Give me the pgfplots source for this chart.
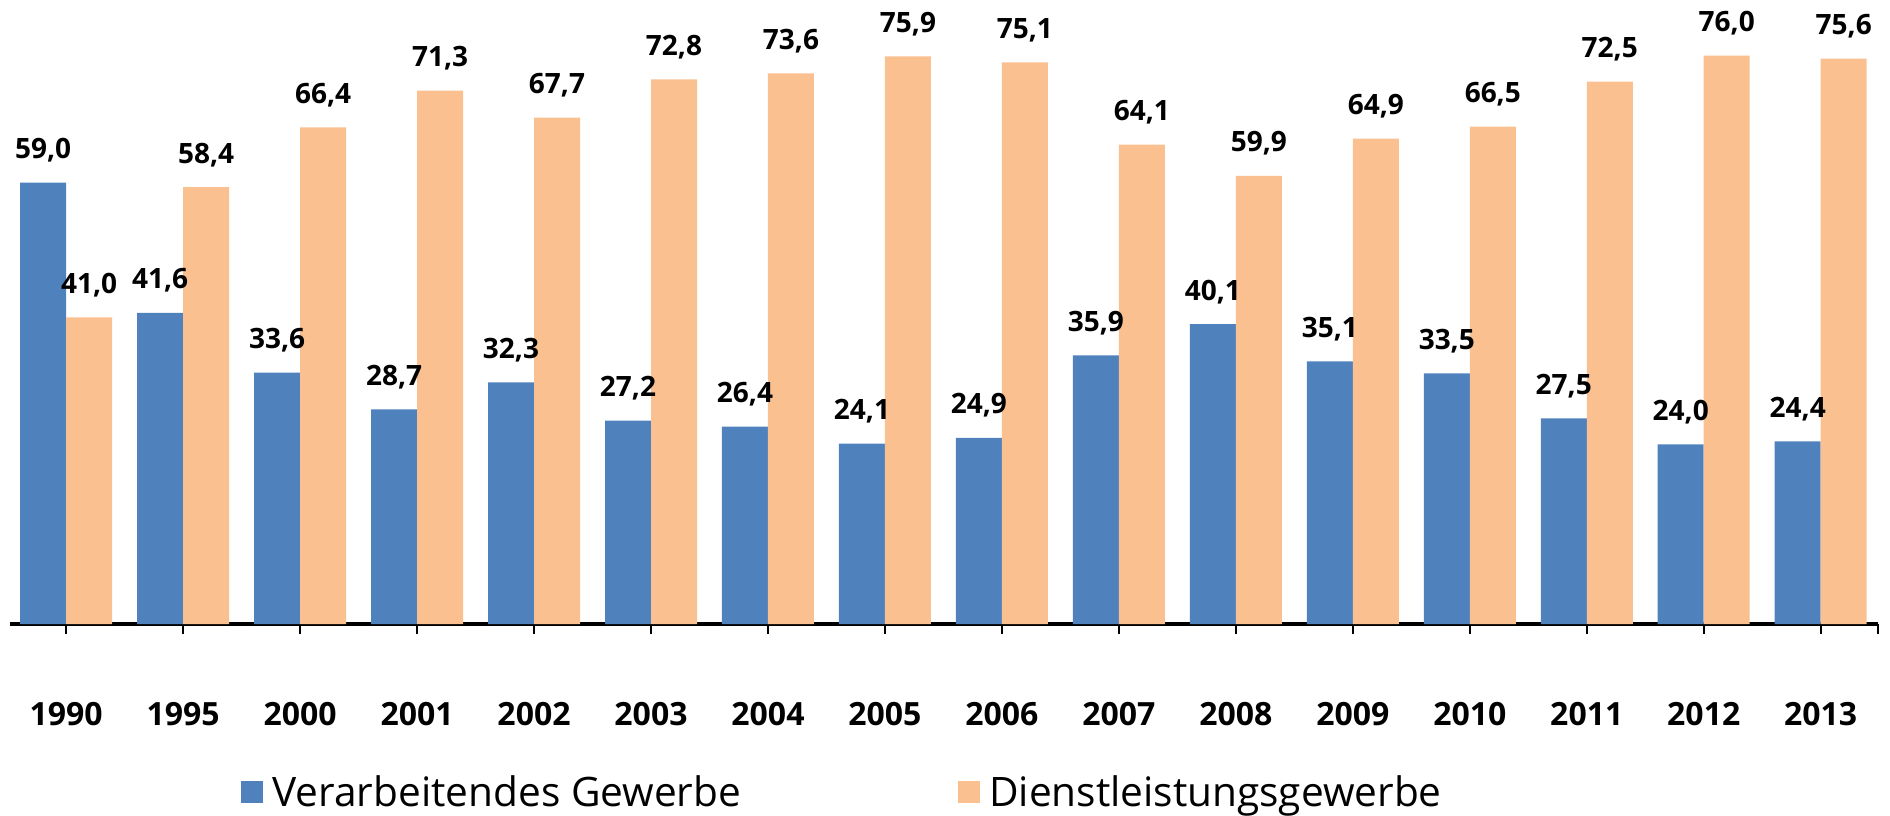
\documentclass[border=0pt]{standalone}
\usepackage{fontspec}
\setmainfont{Open Sans}
\usepackage{pgfplots}
\pgfplotsset{compat=1.18}
\definecolor{cblue}{RGB}{79,129,189}
\definecolor{corange}{RGB}{250,192,144}
\begin{document}
\begin{tikzpicture}
\path[use as bounding box] (-5bp,-96bp) rectangle (940bp,312bp);
\begin{axis}[
  scale only axis,
  width=934bp, height=299.2bp,
  ymin=0, ymax=80,
  xmin=-0.48, xmax=15.49,
  clip=false,
  axis y line=none,
  axis x line=bottom,
  x axis line style={-, line width=2.2bp},
  xtick={0,...,15},
  xticklabels={1990,1995,2000,2001,2002,2003,2004,2005,2006,2007,2008,2009,2010,2011,2012,2013},
  extra x ticks={15.49},
  extra x tick labels={},
  xtick align=inside,
  major tick length=5bp,
  x tick style={black, line width=1bp},
  xticklabel style={font=\fontsize{16bp}{16bp}\selectfont\bfseries, inner sep=0pt, anchor=base, yshift=-45.75bp},
  ybar=0pt,
  bar width=23bp,
  /pgf/number format/.cd, fixed, fixed zerofill, precision=1, use comma, assume math mode=true,
  /pgfplots/.cd,
  nodes near coords,
  every node near coord/.append style={font=\fontsize{14bp}{14bp}\selectfont\bfseries, black, inner sep=0pt, anchor=base, yshift=12bp},
  legend columns=2,
  legend style={draw=none, fill=none, inner sep=0pt, at={(0.1237,-0.281)}, anchor=west,
    font=\fontsize{20.3bp}{20.3bp}\selectfont,
    /tikz/every even column/.append style={column sep=104bp},
    nodes={inner xsep=4.5bp, inner ysep=0pt}},
  legend image code/.code={\fill[#1] (0bp,-5.5bp) rectangle (11bp,5.5bp);},
]
\addplot[fill=cblue, draw=none] coordinates {
(0,59.0) (1,41.6) (2,33.6) (3,28.7) (4,32.3) (5,27.2) (6,26.4) (7,24.1)
(8,24.9) (9,35.9) (10,40.1) (11,35.1) (12,33.5) (13,27.5) (14,24.0) (15,24.4)};
\addlegendentry{Verarbeitendes Gewerbe}
\addplot[fill=corange, draw=none] coordinates {
(0,41.0) (1,58.4) (2,66.4) (3,71.3) (4,67.7) (5,72.8) (6,73.6) (7,75.9)
(8,75.1) (9,64.1) (10,59.9) (11,64.9) (12,66.5) (13,72.5) (14,76.0) (15,75.6)};
\addlegendentry{Dienstleistungsgewerbe}
\end{axis}
\end{tikzpicture}
\end{document}
